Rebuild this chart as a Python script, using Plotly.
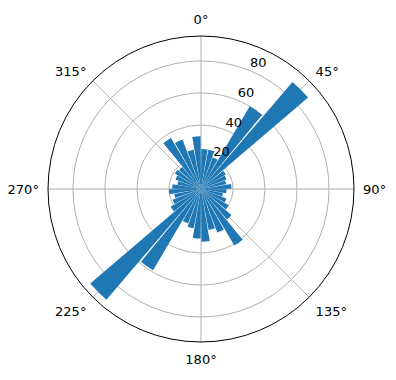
import plotly.graph_objects as go

# Bin centres (degrees, clockwise from north) and counts
directions = [5, 15, 25, 35, 45, 55, 65, 75, 85,
              95, 105, 115, 125, 135, 145, 155, 165, 175,
              185, 195, 205, 215, 225, 235, 245, 255, 265,
              275, 285, 295, 305, 315, 325, 335, 345, 355]
counts = [25, 25, 21, 60, 88, 18, 17, 16, 19,
          16, 14, 17, 20, 25, 41, 29, 26, 33,
          31, 25, 23, 59, 91, 22, 19, 17, 20,
          18, 15, 17, 19, 18, 37, 33, 25, 33]

angle_ticks = [0, 45, 90, 135, 180, 225, 270, 315]
angle_labels = [f"{a}°" for a in angle_ticks]
radial_ticks = [20, 40, 60, 80]
radial_labels = ["20", "40", "60", "80"]
radial_label_angle = 22.5  # matplotlib default rlabel position

fig = go.Figure()
fig.add_trace(go.Barpolar(
    theta=directions,
    r=counts,
    width=9,
    marker=dict(color="#1f77b4", line=dict(width=0)),
    opacity=1,
))
fig.add_trace(go.Scatterpolar(
    theta=[radial_label_angle] * len(radial_ticks),
    r=radial_ticks,
    text=radial_labels,
    mode="text",
    textposition="top right",
    textfont=dict(family="DejaVu Sans", size=13, color="black"),
    hoverinfo="skip",
))

W, H = 396, 380
cx, cy, R = 201, 189, 153
fig.update_layout(
    width=W, height=H,
    margin=dict(l=0, r=0, t=0, b=0),
    paper_bgcolor="white",
    showlegend=False,
    font=dict(family="DejaVu Sans", size=13, color="black"),
    polar=dict(
        domain=dict(x=[(cx - R) / W, (cx + R) / W],
                    y=[(H - cy - R) / H, (H - cy + R) / H]),
        bgcolor="white",
        bargap=0,
        angularaxis=dict(
            direction="clockwise", rotation=90,
            tickmode="array", tickvals=angle_ticks, ticktext=angle_labels,
            showgrid=True, gridcolor="#b0b0b0", gridwidth=1,
            showline=True, linecolor="black", linewidth=1,
            ticks="outside", ticklen=6, tickcolor="rgba(0,0,0,0)",
            tickfont=dict(size=13),
        ),
        radialaxis=dict(
            range=[0, 95.6], angle=67.5,
            tickmode="array", tickvals=radial_ticks,
            showgrid=True, gridcolor="#b0b0b0", gridwidth=1,
            showline=False, ticks="", showticklabels=False,
        ),
    ),
)
fig.write_html("out.html")
